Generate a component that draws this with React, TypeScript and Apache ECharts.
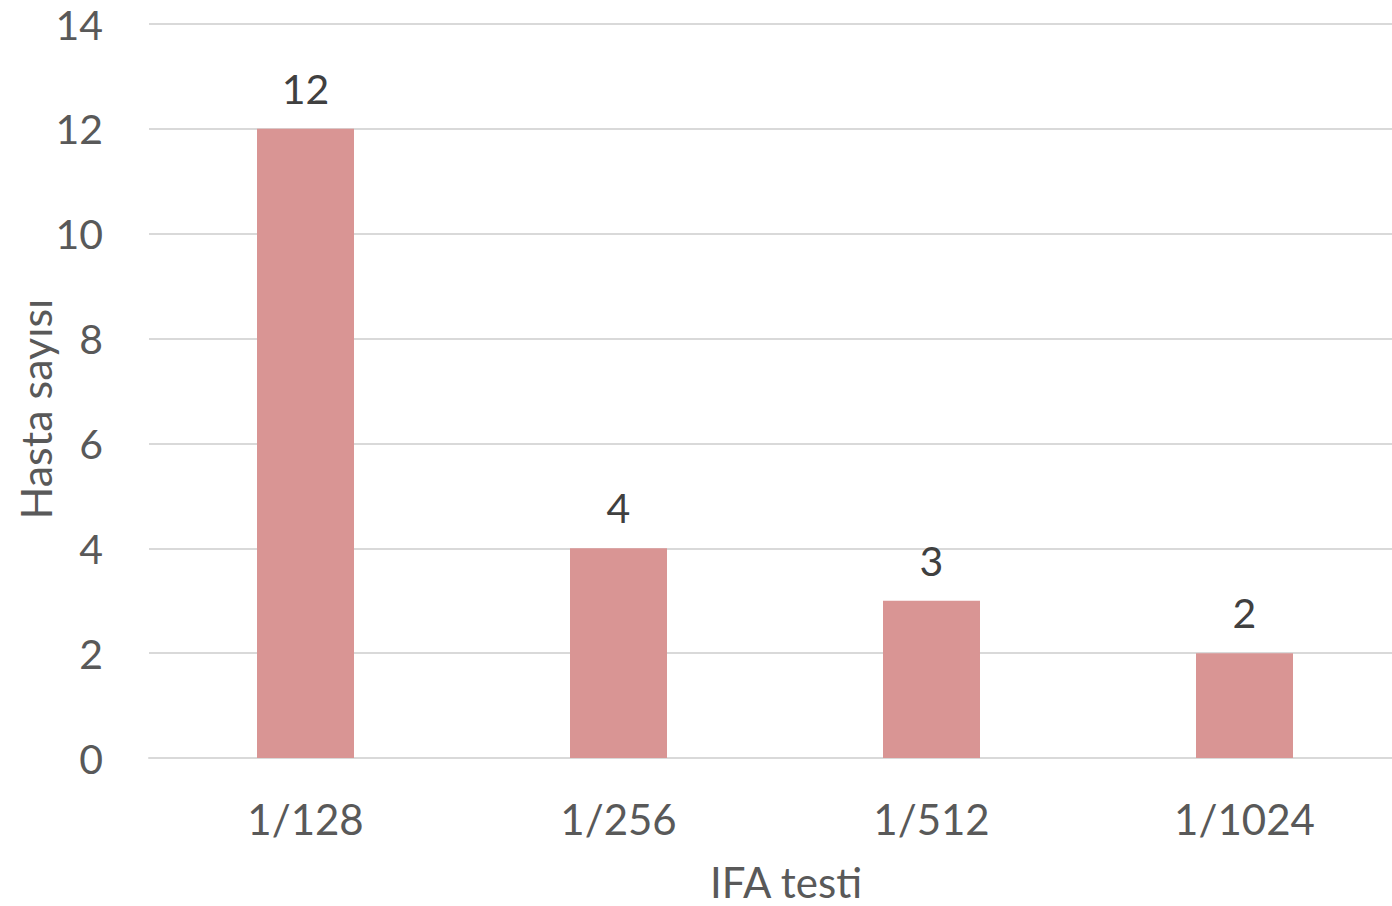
import React, { useEffect, useRef } from "react";
import * as echarts from "echarts";

const categories = ["1/128", "1/256", "1/512", "1/1024"];
const values = [12, 4, 3, 2];
const yTitle = "Hasta sayısı";
const xTitle = "IFA testi";

const FONT = "Lato";

export default function App() {
  const ref = useRef<HTMLDivElement>(null);
  useEffect(() => {
    const chart = echarts.init(ref.current!, undefined, { renderer: "svg" });
    chart.setOption({
      animation: false,
      backgroundColor: "#ffffff",
      textStyle: { fontFamily: FONT },
      grid: { left: 149, right: 0, top: 24, bottom: 148, containLabel: false },
      xAxis: {
        type: "category",
        data: categories,
        axisLine: { show: true, lineStyle: { color: "#D9D9D9", width: 2 } },
        axisTick: { show: false },
        axisLabel: { color: "#595959", fontSize: 42, fontFamily: FONT, margin: 40 },
      },
      yAxis: {
        type: "value",
        min: 0,
        max: 14,
        interval: 2,
        axisLine: { show: false },
        axisTick: { show: false },
        axisLabel: { color: "#595959", fontSize: 41, fontFamily: FONT, margin: 46 },
        splitLine: { lineStyle: { color: "#D9D9D9", width: 2 } },
      },
      series: [
        {
          type: "bar",
          data: values,
          barWidth: 97,
          itemStyle: { color: "#D99594" },
          label: {
            show: true,
            position: "top",
            distance: 20,
            color: "#404040",
            fontSize: 41,
            fontFamily: FONT,
          },
        },
      ],
      graphic: [
        {
          type: "text",
          x: 35,
          y: 409,
          rotation: Math.PI / 2,
          style: {
            text: yTitle,
            fill: "#595959",
            fontSize: 43,
            fontFamily: FONT,
            align: "center",
            verticalAlign: "middle",
          },
        },
        {
          type: "text",
          x: 786,
          y: 882,
          style: {
            text: xTitle,
            fill: "#595959",
            fontSize: 42,
            fontFamily: FONT,
            align: "center",
            verticalAlign: "middle",
          },
        },
      ],
    });
    return () => chart.dispose();
  }, []);
  return (
    <div
      ref={ref}
      style={{ position: "fixed", left: 0, top: 0, width: 1401, height: 906 }}
    />
  );
}
